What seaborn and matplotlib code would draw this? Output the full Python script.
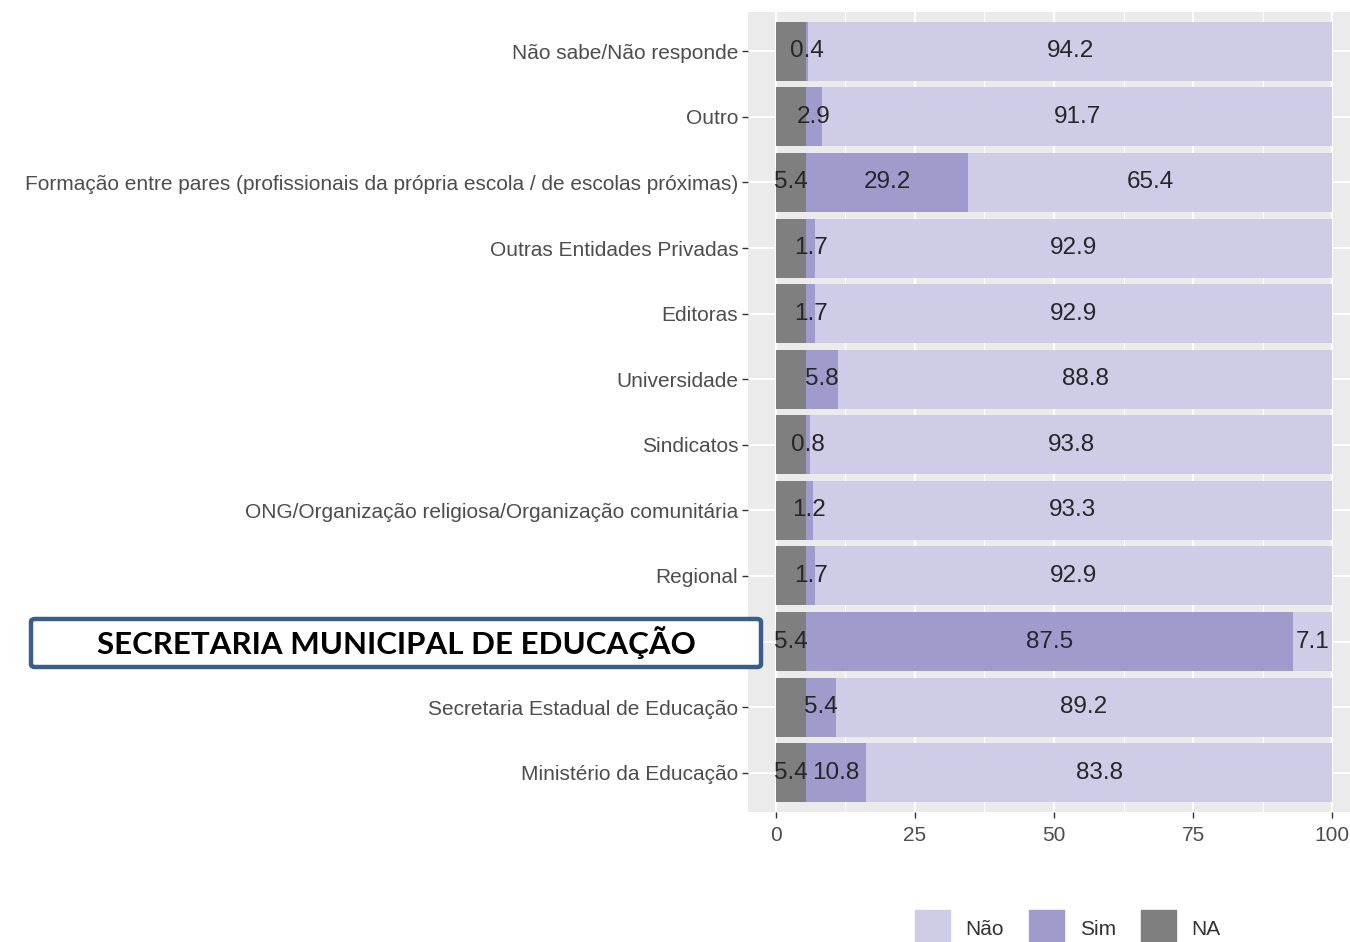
import matplotlib.pyplot as plt
import matplotlib.patches as mpatches
import numpy as np
import pandas as pd
import seaborn as sns

# data (top to bottom as in the chart)
categories = [
    "Não sabe/Não responde",
    "Outro",
    "Formação entre pares (profissionais da própria escola / de escolas próximas)",
    "Outras Entidades Privadas",
    "Editoras",
    "Universidade",
    "Sindicatos",
    "ONG/Organização religiosa/Organização comunitária",
    "Regional",
    "Secretaria Municipal de Educação",
    "Secretaria Estadual de Educação",
    "Ministério da Educação",
]
na_pct = [5.4, 5.4, 5.4, 5.4, 5.4, 5.4, 5.4, 5.4, 5.4, 5.4, 5.4, 5.4]
sim_pct = [0.4, 2.9, 29.2, 1.7, 1.7, 5.8, 0.8, 1.2, 1.7, 87.5, 5.4, 10.8]
nao_pct = [94.2, 91.7, 65.4, 92.9, 92.9, 88.8, 93.8, 93.3, 92.9, 7.1, 89.2, 83.8]
na_labels = ["", "", "5.4", "", "", "", "", "", "", "5.4", "", "5.4"]
x_ticks = [0, 25, 50, 75, 100]
legend_labels = ["Não", "Sim", "NA"]
highlight = "SECRETARIA MUNICIPAL DE EDUCAÇÃO"

C_NAO = "#cfcce8"
C_SIM = "#a09bcd"
C_NA = "#7f7f7f"

sns.set_theme(style="white")
plt.rcParams["font.family"] = ["Liberation Sans", "DejaVu Sans"]

df = pd.DataFrame({"categoria": categories, "NA": na_pct, "Sim": sim_pct, "Não": nao_pct})
df["fim_na"] = df["NA"]
df["fim_sim"] = df["NA"] + df["Sim"]
df["fim_nao"] = df["fim_sim"] + df["Não"]

W, H = 1350, 942
fig = plt.figure(figsize=(W / 100, H / 100), dpi=100)
ax = fig.add_axes([748 / W, 1 - 812 / H, (1360 - 748) / W, (812 - 12) / H])
ax.set_facecolor("#ebebeb")

# layered bars -> stacked look (NA | Sim | Não)
for col, color in [("fim_nao", C_NAO), ("fim_sim", C_SIM), ("fim_na", C_NA)]:
    sns.barplot(data=df, x=col, y="categoria", color=color, saturation=1,
                width=0.9, errorbar=None, linewidth=0, ax=ax)

# segment labels
lab_kw = dict(ha="center", va="center", fontsize=17.5, color="#262626")
for i, row in df.iterrows():
    if na_labels[i]:
        ax.text(row["NA"] / 2, i, na_labels[i], **lab_kw)
    ax.text(row["fim_na"] + row["Sim"] / 2, i, f"{row['Sim']:.1f}", **lab_kw)
    ax.text(row["fim_sim"] + row["Não"] / 2, i, f"{row['Não']:.1f}", **lab_kw)

ax.set_xlim(-5, 105)
ax.set_ylim(len(categories) - 0.4, -0.6)
ax.set_xticks(x_ticks)
ax.set_xticks([12.5, 37.5, 62.5, 87.5], minor=True)
# the municipal label is covered by the highlight box
ax.set_yticks(range(len(categories)))
ax.set_yticklabels(["" if c == "Secretaria Municipal de Educação" else c for c in categories])
ax.set_xlabel("")
ax.set_ylabel("")
ax.set_axisbelow(True)
ax.grid(axis="x", which="major", color="white", linewidth=1.4)
ax.grid(axis="x", which="minor", color="white", linewidth=0.7)
ax.grid(axis="y", which="major", color="white", linewidth=1.4)
for s in ax.spines.values():
    s.set_visible(False)
ax.tick_params(axis="both", which="major", length=4, width=1, color="#333333",
               labelcolor="#4d4d4d", labelsize=15, left=True, bottom=True)
ax.tick_params(axis="y", pad=3)
ax.tick_params(axis="x", pad=6)
ax.tick_params(axis="x", which="minor", length=0)

# highlight box over the municipal label
box = mpatches.FancyBboxPatch((31 / W, 1 - 667 / H), 730 / W, 48 / H,
                              boxstyle="round,pad=0,rounding_size=0.003",
                              transform=fig.transFigure, facecolor="white",
                              edgecolor="#3a5e8c", linewidth=3.2, zorder=5)
fig.add_artist(box)
fig.text(396 / W, 1 - 643 / H, highlight, ha="center", va="center",
         fontsize=22.5, fontweight="bold", color="black",
         family=["Lato", "DejaVu Sans"], zorder=6)

# legend at the bottom (cut by the image edge as in the source)
handles = [mpatches.Patch(color=c) for c in (C_NAO, C_SIM, C_NA)]
fig.legend(handles, legend_labels, loc="upper left",
           bbox_to_anchor=(915 / W, 1 - 910 / H), ncol=3, frameon=False,
           borderpad=0, borderaxespad=0, handlelength=1.68, handleheight=2.3,
           handletextpad=0.75, columnspacing=1.2, fontsize=15, labelcolor="#333333")

fig.savefig("out.png", dpi=100)
